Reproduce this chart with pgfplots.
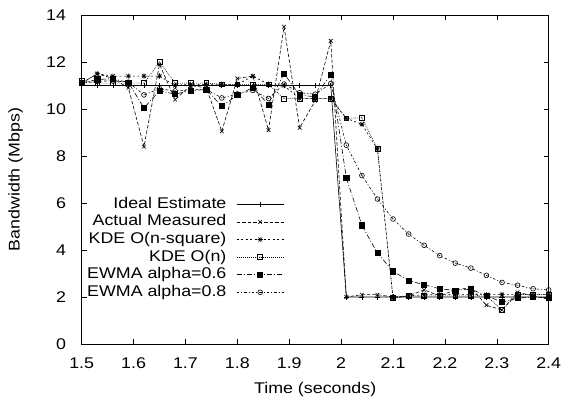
\documentclass[border=0pt]{standalone}
\usepackage{fontspec}
\setmainfont{Liberation Sans}[FakeStretch=1.15]
\usepackage{pgfplots}
\usepackage{pgfplotstable}
\pgfplotsset{compat=1.18}

\pgfdeclareplotmark{gpstar}{%
  \pgfpathmoveto{\pgfqpoint{-\pgfplotmarksize}{0pt}}\pgfpathlineto{\pgfqpoint{\pgfplotmarksize}{0pt}}%
  \pgfpathmoveto{\pgfqpoint{0pt}{-\pgfplotmarksize}}\pgfpathlineto{\pgfqpoint{0pt}{\pgfplotmarksize}}%
  \pgfpathmoveto{\pgfqpoint{-0.75\pgfplotmarksize}{-0.75\pgfplotmarksize}}\pgfpathlineto{\pgfqpoint{0.75\pgfplotmarksize}{0.75\pgfplotmarksize}}%
  \pgfpathmoveto{\pgfqpoint{-0.75\pgfplotmarksize}{0.75\pgfplotmarksize}}\pgfpathlineto{\pgfqpoint{0.75\pgfplotmarksize}{-0.75\pgfplotmarksize}}%
  \pgfusepathqstroke}
\pgfdeclareplotmark{sqdot}{%
  \pgfpathrectangle{\pgfqpoint{-\pgfplotmarksize}{-\pgfplotmarksize}}{\pgfqpoint{2\pgfplotmarksize}{2\pgfplotmarksize}}%
  \pgfusepathqstroke
  \pgfpathcircle{\pgfpointorigin}{0.45pt}\pgfusepathqfill}
\pgfdeclareplotmark{cdot}{%
  \pgfpathcircle{\pgfpointorigin}{\pgfplotmarksize}%
  \pgfusepathqstroke
  \pgfpathcircle{\pgfpointorigin}{0.45pt}\pgfusepathqfill}

\pgfplotstableread{
t     ideal actual kdesq kden  ewa   ewb
1.50  11    11.1   11.1  11.2  11.1  11.1
1.53  11    11.5   11.5  11.1  11.26 11.18
1.56  11    11.3   11.4  11.1  11.28 11.2
1.59  11    10.9   11.4  11.1  11.13 11.14
1.62  11    8.4    11.4  11.1  10.04 10.6
1.65  11    11.9   11.4  12.0  10.78 10.86
1.68  11    10.4   11.0  11.1  10.63 10.77
1.71  11    11.0   11.05 11.1  10.78 10.82
1.74  11    10.9   11.05 11.1  10.83 10.83
1.77  11    9.05   11.05 11.05 10.12 10.47
1.80  11    11.3   11.05 11.05 10.59 10.64
1.83  11    11.4   11.4  11.05 10.91 10.79
1.86  11    9.1    11.05 11.05 10.19 10.45
1.89  11    13.5   11.0  10.44 11.51 11.06
1.92  11    9.2    10.44 10.44 10.59 10.69
1.95  11    10.35  10.44 10.44 10.52 10.63
1.98  11    12.9   10.44 10.44 11.47 11.08
2.01  2     2.0    9.6   9.6   7.07  8.46
2.04  2     2.1    9.35  9.63  5.05  7.17
2.07  2     2.1    8.3   8.3   3.87  6.17
2.10  2     2.0    1.95  1.95  3.09  5.32
2.13  2     2.05   2.05  2.05  2.70  4.68
2.16  2     2.3    2.1   2.05  2.52  4.2
2.19  2     2.05   2.1   2.05  2.35  3.76
2.22  2     2.3    2.1   2.05  2.28  3.44
2.25  2     2.4    2.1   2.05  2.33  3.23
2.28  2     1.65   2.1   2.05  2.06  2.92
2.31  2     1.45   2.1   1.45  1.78  2.62
2.34  2     2.2    2.1   2.1   1.95  2.5
2.37  2     2.05   2.1   2.1   2.0   2.35
2.40  2     1.9    2.1   2.1   1.95  2.3
}\data

\begin{document}
\begin{tikzpicture}[font=\fontsize{15.5}{18}\selectfont]
\begin{axis}[
  at={(0,0)}, anchor=south west,
  scale only axis, width=467pt, height=329pt,
  xmin=1.5, xmax=2.4, ymin=0, ymax=14,
  xtick={1.5,1.6,1.7,1.8,1.9,2,2.1,2.2,2.3,2.4},
  xticklabels={1.5,1.6,1.7,1.8,1.9,2,2.1,2.2,2.3,2.4},
  ytick={0,2,4,6,8,10,12,14},
  yticklabels={0,2,4,6,8,10,12,14},
  tick align=inside, major tick length=5pt,
  tick style={black, line width=0.6pt},
  axis line style={line width=0.7pt},
  yticklabel style={anchor=east, inner sep=0pt, xshift=-15.5pt},
  xticklabel style={anchor=base, inner sep=0pt, yshift=-24.3pt},
  every axis x label/.style={at={(axis description cs:0.5,0)}, yshift=-50pt, anchor=base, inner sep=0pt},
  every axis y label/.style={at={(axis description cs:0,0.5)}, xshift=-66pt, rotate=90, anchor=center, inner sep=0pt},
  xlabel={Time (seconds)}, ylabel={Bandwidth (Mbps)},
  legend style={draw=none, fill=none, at={(axis description cs:0.4332,0.4459)}, anchor=north east,
    legend cell align=right, row sep=3.6pt, column sep=10pt, inner sep=0pt, outer sep=0pt,
    nodes={inner sep=0pt, text height=11pt, text depth=3pt}},
  legend plot pos=right,
  legend image code/.code={\draw[mark repeat=2, mark phase=2, #1] plot coordinates {(0pt,0pt) (23.5pt,0pt) (47pt,0pt)};},
  every axis plot/.append style={black, line width=0.6pt, mark size=2.6pt, mark options={solid, line width=0.6pt}},
]
\addplot[mark=+] table[x=t, y=ideal] {\data};
\addlegendentry{Ideal Estimate}
\addplot[mark=x, dash pattern=on 3.5pt off 2pt] table[x=t, y=actual] {\data};
\addlegendentry{Actual Measured}
\addplot[mark=gpstar, dash pattern=on 2pt off 2.5pt] table[x=t, y=kdesq] {\data};
\addlegendentry{KDE O(n-square)}
\addplot[mark=sqdot, mark size=2.4pt, dash pattern=on 0.8pt off 1.2pt] table[x=t, y=kden] {\data};
\addlegendentry{KDE O(n)}
\addplot[mark=square*, mark size=2.6pt, dash pattern=on 5pt off 2pt on 1pt off 2pt] table[x=t, y=ewa] {\data};
\addlegendentry{EWMA alpha=0.6}
\addplot[mark=cdot, mark size=2.4pt, dash pattern=on 2.5pt off 2pt on 1pt off 2pt] table[x=t, y=ewb] {\data};
\addlegendentry{EWMA alpha=0.8}
\end{axis}
\pgfresetboundingbox
\path (-81.7pt,-54pt) rectangle (483.3pt,344pt);
\end{tikzpicture}
\end{document}
